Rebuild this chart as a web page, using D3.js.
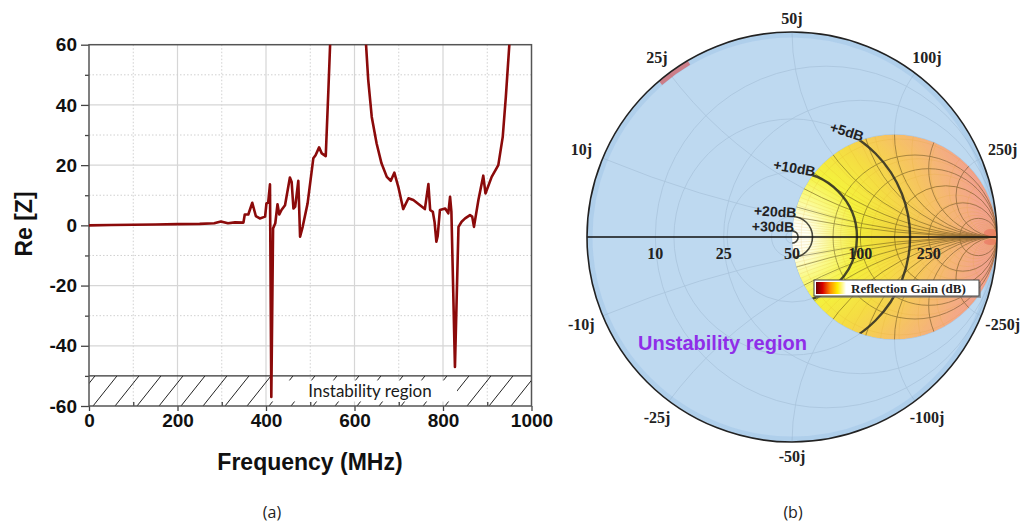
<!DOCTYPE html>
<html><head><meta charset="utf-8">
<script src="https://cdn.jsdelivr.net/npm/d3@7"></script>
<style>body{margin:0;background:#fff}svg{display:block}</style>
</head><body>
<svg id="c" width="1020" height="526"></svg>
<script>
// ---------- data: (a) Re[Z] vs frequency ----------
const freq = [0,50,100,150,200,250,283,298,314,330,349,352,360,369,377,386,398,401,405,409,412,416,421,426,430,435,443,454,458,462,466,473,477,483,494,507,512,520,526,535,541,545,555,590,620,626,631,639,650,661,673,682,690,699,710,722,733,759,767,771,777,781,785,788,793,805,812,816,819,827,835,842,850,861,866,870,880,891,896,910,925,935,942,950,960];
const reZ = [0,0.1,0.2,0.3,0.4,0.5,0.7,1.3,0.7,1,0.9,3.6,3.6,7.5,3.1,2.3,2.9,7.3,7.6,13.6,-57,-1,0.7,7,3.6,5.1,6.7,15.9,14.4,5.6,6.2,14.8,-3.8,-0.4,7.3,22.3,23.3,25.9,23.9,23,45,60.5,100,400,100,60.2,48.3,36,27.2,20.6,16.1,14.8,17.5,12.8,5.4,9,8.4,5.4,13.7,5.1,4.5,1,-5.4,-3.5,5.1,5.6,4,9.5,4.5,-47,-0.5,1.2,2.3,3.4,2.9,-0.5,8.4,16.5,10.6,16.1,20,29.4,42.7,60.2,90];
const xTicks = [0,200,400,600,800,1000];
const xMinor = [100,300,500,700,900];
const yTicks = [60,40,20,0,-20,-40,-60];
const yMinor = [50,30,10,-10,-30,-50];
const instabilityLimit = -50;
const instabilityLabel = "Instability region";

// ---------- data: (b) Smith chart ----------
const z0 = 50;
const resistanceLabels = [10,25,50,100,250];
const reactanceLabels = [10,25,50,100,250,-10,-25,-50,-100,-250];
const gainContours = [
  {label:"+5dB",  rho:0.576},
  {label:"+10dB", rho:0.317},
  {label:"+20dB", rho:0.100},
  {label:"+30dB", rho:0.030}
];
const gridR = [0.2,0.5,1,2,5];
const gridX = [0.2,0.5,1,2,5,-0.2,-0.5,-1,-2,-5];
const innerR = [1.5,2,3,5,10];
const innerX = [0.2,0.3,0.5,0.7,1,1.5,2,3,5,-0.2,-0.3,-0.5,-0.7,-1,-1.5,-2,-3,-5];

const svg = d3.select("#c");
const defs = svg.append("defs");

// ================= (a) =================
const x = d3.scaleLinear().domain([0,1000]).range([89,531.5]);
const y = d3.scaleLinear().domain([-60,60]).range([406,44.7]);
const A = svg.append("g");

// grid
A.selectAll(".vmaj").data(xTicks.slice(1,-1)).join("line")
  .attr("x1",d=>x(d)).attr("x2",d=>x(d)).attr("y1",y(60)).attr("y2",y(-60))
  .attr("stroke","#d6d6d6").attr("stroke-width",1.2);
A.selectAll(".vmin").data(xMinor).join("line")
  .attr("x1",d=>x(d)).attr("x2",d=>x(d)).attr("y1",y(60)).attr("y2",y(-60))
  .attr("stroke","#d0d0d0").attr("stroke-dasharray","1.5,2");
A.selectAll(".hmaj").data(yTicks.slice(1,-1)).join("line")
  .attr("y1",d=>y(d)).attr("y2",d=>y(d)).attr("x1",x(0)).attr("x2",x(1000))
  .attr("stroke","#d6d6d6").attr("stroke-width",1.2);
A.selectAll(".hmin").data(yMinor.filter(d=>d!==instabilityLimit)).join("line")
  .attr("y1",d=>y(d)).attr("y2",d=>y(d)).attr("x1",x(0)).attr("x2",x(1000))
  .attr("stroke","#d0d0d0").attr("stroke-dasharray","1.5,2");

// hatched instability band
defs.append("clipPath").attr("id","band").append("rect")
  .attr("x",x(0)).attr("y",y(instabilityLimit)).attr("width",x(1000)-x(0)).attr("height",y(-60)-y(instabilityLimit));
const bandH = y(-60)-y(instabilityLimit);
A.append("g").attr("clip-path","url(#band)").selectAll("line")
  .data(d3.range(x(0)-40, x(1000)+10, 22)).join("line")
  .attr("x1",d=>d).attr("y1",y(-60)).attr("x2",d=>d+24).attr("y2",y(instabilityLimit))
  .attr("stroke","#222").attr("stroke-width",1);
A.append("rect").attr("x",271).attr("y",y(instabilityLimit)+4.5)
  .attr("width",186).attr("height",bandH-9).attr("fill","#fff");
A.append("text").attr("x",370).attr("y",397).attr("text-anchor","middle")
  .attr("font-family","Lato, 'Open Sans', sans-serif").attr("font-size",17).attr("fill","#1a1a1a")
  .text(instabilityLabel);
A.append("line").attr("x1",x(0)).attr("x2",x(1000)).attr("y1",y(instabilityLimit)).attr("y2",y(instabilityLimit))
  .attr("stroke","#333").attr("stroke-width",1.3);

// axes
const fontAx = "'Liberation Sans', Arial, sans-serif";
const fmt = d => String(d);
A.append("g").attr("transform",`translate(${x(0)},0)`)
  .call(d3.axisLeft(y).tickValues(yTicks).tickSize(8).tickPadding(4).tickFormat(fmt));
A.append("g").attr("transform",`translate(${x(0)},0)`)
  .call(d3.axisLeft(y).tickValues(yMinor).tickSize(4).tickFormat(""));
A.append("g").attr("transform",`translate(0,${y(-60)})`)
  .call(d3.axisBottom(x).tickValues(xTicks).tickSize(5).tickPadding(3).tickFormat(fmt));
A.append("g").attr("transform",`translate(0,${y(-60)})`)
  .call(d3.axisBottom(x).tickValues(xMinor).tickSize(-4).tickFormat(""));
A.selectAll(".domain").remove();
A.selectAll(".tick line").attr("stroke","#444").attr("stroke-width",1.3);
A.selectAll(".tick text").attr("font-family",fontAx).attr("font-weight","bold")
  .attr("font-size",19).attr("fill","#111");
A.append("rect").attr("x",x(0)).attr("y",y(60)).attr("width",x(1000)-x(0)).attr("height",y(-60)-y(60))
  .attr("fill","none").attr("stroke","#555").attr("stroke-width",1.5);

// curve
defs.append("clipPath").attr("id","plotA").append("rect")
  .attr("x",x(0)).attr("y",y(60)).attr("width",x(1000)-x(0)).attr("height",y(-60)-y(60));
const pts = freq.map((f,i)=>[f,reZ[i]]);
A.append("path").datum(pts).attr("clip-path","url(#plotA)")
  .attr("d",d3.line().x(d=>x(d[0])).y(d=>y(d[1])))
  .attr("fill","none").attr("stroke","#8b0a0a").attr("stroke-width",2.6).attr("stroke-linejoin","round");

// titles
A.append("text").attr("x",310).attr("y",470).attr("text-anchor","middle")
  .attr("font-family",fontAx).attr("font-weight","bold").attr("font-size",23).attr("fill","#111")
  .text("Frequency (MHz)");
A.append("text").attr("transform","translate(32,224) rotate(-90)").attr("text-anchor","middle")
  .attr("font-family",fontAx).attr("font-weight","bold").attr("font-size",23).attr("fill","#111")
  .text("Re [Z]");
svg.append("text").attr("x",272).attr("y",518).attr("text-anchor","middle")
  .attr("font-family","'Open Sans', sans-serif").attr("font-size",16).attr("fill","#222").text("(a)");
svg.append("text").attr("x",793).attr("y",518).attr("text-anchor","middle")
  .attr("font-family","'Open Sans', sans-serif").attr("font-size",16).attr("fill","#222").text("(b)");

// ================= (b) Smith chart =================
const cx = 792, cy = 237, R = 205;
const gx = d3.scaleLinear().domain([-1,1]).range([cx-R,cx+R]);
const gy = d3.scaleLinear().domain([-1,1]).range([cy+R,cy-R]);
const B = svg.append("g");

defs.append("clipPath").attr("id","smith").append("circle").attr("cx",cx).attr("cy",cy).attr("r",R);
defs.append("clipPath").attr("id","gain").append("circle").attr("cx",gx(0.5)).attr("cy",cy).attr("r",0.5*R);

const rg = defs.append("radialGradient").attr("id","gainFill").attr("gradientUnits","userSpaceOnUse")
  .attr("cx",cx).attr("cy",cy).attr("r",R);
[[0,"#ffffff"],[0.08,"#fffff0"],[0.2,"#fafa8a"],[0.33,"#f4f23e"],[0.5,"#f5dc45"],[0.66,"#f6c660"],[0.8,"#f5b47a"],[0.92,"#f3a48c"],[1,"#f2a096"]]
  .forEach(s=>rg.append("stop").attr("offset",s[0]).attr("stop-color",s[1]));

// blue disc
B.append("circle").attr("cx",cx).attr("cy",cy).attr("r",R).attr("fill","#bed9f1");
B.append("circle").attr("cx",cx).attr("cy",cy).attr("r",R-3).attr("fill","none")
  .attr("stroke","#aacaea").attr("stroke-width",5).attr("opacity",0.7);

const G = B.append("g").attr("clip-path","url(#smith)");
function rCircle(g, r){ return g.append("circle").attr("cx",gx(r/(1+r))).attr("cy",cy).attr("r",R/(1+r)).attr("fill","none"); }
function xCircle(g, xv){ return g.append("circle").attr("cx",gx(1)).attr("cy",gy(1/xv)).attr("r",R/Math.abs(xv)).attr("fill","none"); }

// faint grid in blue area
const faint = G.append("g").attr("stroke","#8aa4bd").attr("stroke-width",0.8).attr("opacity",0.4);
gridR.forEach(r=>rCircle(faint,r));
gridX.forEach(v=>xCircle(faint,v));
gainContours.forEach(c=>faint.append("circle").attr("cx",cx).attr("cy",cy).attr("r",c.rho*R).attr("fill","none"));

// red blotch near 25j edge
G.append("path").attr("d",d3.arc().innerRadius(R-5).outerRadius(R).startAngle(-0.225*Math.PI).endAngle(-0.17*Math.PI))
  .attr("transform",`translate(${cx},${cy})`).attr("fill","#e04848").attr("opacity",0.6);

// gain disc
const D = G.append("g").attr("clip-path","url(#gain)");
D.append("circle").attr("cx",gx(0.5)).attr("cy",cy).attr("r",0.5*R).attr("fill","url(#gainFill)");
const tex = D.append("g").attr("stroke","#d9a020").attr("stroke-width",0.45).attr("opacity",0.35);
d3.range(-86,87,3).filter(a=>a!==0).forEach(a=>xCircle(tex,Math.tan(a*Math.PI/180)*0.6));
d3.range(1.05,30,0.25).forEach(r=>rCircle(tex,r*r*0.9+0.1));
const dark = D.append("g").attr("stroke","#4a3a10").attr("stroke-width",0.9).attr("opacity",0.5);
innerR.forEach(r=>rCircle(dark,r));
innerX.forEach(v=>xCircle(dark,v));
// reddish spots at open-circuit point
D.append("ellipse").attr("cx",gx(0.97)).attr("cy",cy-4).attr("rx",7).attr("ry",4).attr("fill","#e04040").attr("opacity",0.3);
D.append("ellipse").attr("cx",gx(0.97)).attr("cy",cy+5).attr("rx",7).attr("ry",3).attr("fill","#e04040").attr("opacity",0.3);

// gain contours
gainContours.forEach((c,i)=>D.append("circle").attr("cx",cx).attr("cy",cy).attr("r",c.rho*R)
  .attr("fill","none").attr("stroke","#2a2a22").attr("stroke-width",i<2?2.4:1.6).attr("opacity",0.85));

// axis line and outline
B.append("line").attr("x1",cx-R).attr("x2",cx+R).attr("y1",cy).attr("y2",cy).attr("stroke","#111").attr("stroke-width",1.5);
B.append("circle").attr("cx",cx).attr("cy",cy).attr("r",R).attr("fill","none").attr("stroke","#222").attr("stroke-width",1.6);

// contour labels
gainContours.forEach(c=>{
  const px = gx(c.rho*c.rho), py = gy(Math.sqrt(c.rho*c.rho - Math.pow(c.rho,4)));
  B.append("text").attr("transform",`translate(${px+2},${py+1}) rotate(${c.rho*30})`)
    .attr("text-anchor","end").attr("font-family",fontAx).attr("font-weight","bold")
    .attr("font-size",14).attr("fill","#222").text(c.label);
});

// resistance labels
const serif = "'Liberation Serif', 'Times New Roman', serif";
resistanceLabels.forEach(r=>{
  const rn = r/z0;
  B.append("text").attr("x",gx((rn-1)/(rn+1))).attr("y",cy+16).attr("text-anchor","middle")
    .attr("dominant-baseline","central").attr("font-family",serif).attr("font-weight","bold")
    .attr("font-size",16).attr("fill","#222").text(r);
});
// reactance labels
reactanceLabels.forEach(X=>{
  const xn = Math.abs(X)/z0;
  let th = Math.PI - 2*Math.atan(xn); if (X<0) th = -th;
  const d = R + 14 + 10*Math.abs(Math.cos(th));
  B.append("text").attr("x",cx + d*Math.cos(th)).attr("y",cy - d*Math.sin(th))
    .attr("text-anchor","middle").attr("dominant-baseline","central")
    .attr("font-family",serif).attr("font-weight","bold").attr("font-size",16).attr("fill","#222")
    .text(X+"j");
});

// Unstability label
B.append("text").attr("x",638).attr("y",350).attr("font-family",fontAx).attr("font-weight","bold")
  .attr("font-size",20).attr("fill","#8f2ee8").text("Unstability region");

// legend
const lg = defs.append("linearGradient").attr("id","legG");
[[0,"#6a0000"],[0.22,"#d80000"],[0.48,"#ff9000"],[0.72,"#ffee00"],[1,"#ffffff"]]
  .forEach(s=>lg.append("stop").attr("offset",s[0]).attr("stop-color",s[1]));
B.append("rect").attr("x",816).attr("y",282).attr("width",165).attr("height",16).attr("fill","#777").attr("opacity",0.6);
B.append("rect").attr("x",814).attr("y",280).attr("width",165).attr("height",16).attr("fill","#fff").attr("stroke","#444").attr("stroke-width",1);
B.append("rect").attr("x",816).attr("y",282).attr("width",30).attr("height",12).attr("fill","url(#legG)");
B.append("text").attr("x",851).attr("y",292.5).attr("font-family",serif).attr("font-weight","bold")
  .attr("font-size",13).attr("fill","#222").text("Reflection Gain (dB)");
</script>
</body></html>
